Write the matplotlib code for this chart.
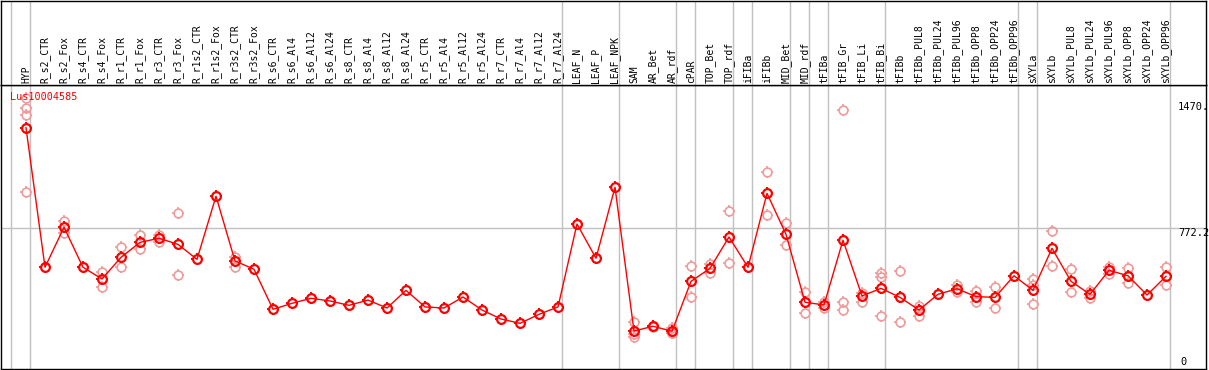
# Gráfica de expresión de Lus10004585
import numpy as np
import matplotlib.pyplot as plt
from matplotlib.path import Path

# Categorías (muestras)
categorias = ['HYP', 'R_s2_CTR', 'R_s2_Fox', 'R_s4_CTR', 'R_s4_Fox', 'R_r1_CTR', 'R_r1_Fox',
              'R_r3_CTR', 'R_r3_Fox', 'R_r1s2_CTR', 'R_r1s2_Fox', 'R_r3s2_CTR', 'R_r3s2_Fox',
              'R_s6_CTR', 'R_s6_Al4', 'R_s6_Al12', 'R_s6_Al24', 'R_s8_CTR', 'R_s8_Al4',
              'R_s8_Al12', 'R_s8_Al24', 'R_r5_CTR', 'R_r5_Al4', 'R_r5_Al12', 'R_r5_Al24',
              'R_r7_CTR', 'R_r7_Al4', 'R_r7_Al12', 'R_r7_Al24', 'LEAF_N', 'LEAF_P', 'LEAF_NPK',
              'SAM', 'AR_Bet', 'AR_rdf', 'cPAR', 'TOP_Bet', 'TOP_rdf', 'iFIBa', 'iFIBb',
              'MID_Bet', 'MID_rdf', 'tFIBa', 'tFIB_Gr', 'tFIB_Li', 'tFIB_Bi', 'tFIBb',
              'tFIBb_PUL8', 'tFIBb_PUL24', 'tFIBb_PUL96', 'tFIBb_OPP8', 'tFIBb_OPP24',
              'tFIBb_OPP96', 'sXYLa', 'sXYLb', 'sXYLb_PUL8', 'sXYLb_PUL24', 'sXYLb_PUL96',
              'sXYLb_OPP8', 'sXYLb_OPP24', 'sXYLb_OPP96']

# Valores medios
medias = [1330, 556, 778, 556, 491, 611, 694, 717, 683, 600, 950, 591, 545,
          323, 356, 384, 369, 345, 374, 330, 428, 336, 330, 391, 319, 269, 245, 295, 336,
          796, 606, 1000, 202, 229, 201, 478, 550, 724, 556, 966, 739, 362, 347, 706,
          397, 439, 389, 319, 406, 437, 393, 389, 509, 428, 661, 478, 406, 539, 509,
          402, 506]

# Réplicas individuales
replicas = [[1497, 1441, 1401, 972], [], [813, 744], [], [531, 448], [667, 556],
            [735, 656], [735, 698], [855, 513], [], [], [615, 559], [],
            [], [], [], [], [], [], [], [], [], [], [], [], [], [], [], [],
            [], [], [], [251, 185, 171], [225, 232], [221, 190, 192], [561, 389],
            [576, 524], [866, 578], [], [1084, 844], [800, 678], [417, 301], [332, 363],
            [1427, 362, 317], [415, 365], [524, 500, 287], [534, 251], [341, 287], [],
            [458, 419], [424, 363], [445, 332], [], [489, 351, 458], [755, 561],
            [545, 417], [424, 384], [559, 519], [552, 470], [], [557, 456]]

# Límites de grupos (líneas verticales)
limites = [0, 1, 29, 32, 35, 36, 38, 39, 41, 42, 43, 46, 53, 54, 61]

# Marcas pequeñas alrededor del círculo
marcas = Path([(1, 0), (1.4, 0), (-1, 0), (-1.4, 0), (0, 1), (0, 1.4), (0, -1), (0, -1.4)],
              [Path.MOVETO, Path.LINETO] * 4)

W, H = 1209, 370
fig = plt.figure(figsize=(W / 100, H / 100), dpi=100)

x0, x1 = -25 / 19, 1180 / 19
ax = fig.add_axes([1 / W, 1 / H, 1205 / W, 284 / H])
cab = fig.add_axes([1 / W, 285 / H, 1205 / W, 84 / H])

for a in (ax, cab):
    a.set_xlim(x0, x1)
    a.set_xticks([])
    a.set_yticks([])
    for s in a.spines.values():
        s.set_color('black')
        s.set_linewidth(1)
    for k in limites:
        a.axvline(k - 15 / 19, color='#c0c0c0', lw=1, zorder=0)
cab.set_ylim(0, 84)
ax.set_ylim(-8.3, 1567)
ax.axhline(772.2, color='#c0c0c0', lw=1, zorder=0)

# Etiquetas de las muestras
for i, c in enumerate(categorias):
    cab.text(i, 2, c, rotation=90, ha='center', va='bottom',
             family='DejaVu Sans Mono', fontsize=7)

ms = 6.3
x = np.arange(len(categorias))
for i, r in enumerate(replicas):
    if r:
        for m, t in (('o', ms), (marcas, ms * 1.4)):
            ax.plot([i] * len(r), r, ls='none', marker=m, ms=t, mfc='none',
                    mec='#f09a9a', mew=1.2, zorder=2)
ax.plot(x, medias, color='red', lw=1, marker='o', ms=ms, mfc='none',
        mec='red', mew=1.6, zorder=3)
ax.plot(x, medias, ls='none', marker=marcas, ms=ms * 1.4, mec='red', mew=1.4, zorder=3)

# Etiquetas del eje y
xe = (1178 - 26) / 19
ax.text(xe, 1470, '1470.', ha='left', va='top', family='DejaVu Sans Mono', fontsize=7.5)
ax.text(xe, 772.2, '772.2', ha='left', va='top', family='DejaVu Sans Mono', fontsize=7.5)
ax.text(xe + 0.1, 30, '0', ha='left', va='center', family='DejaVu Sans Mono', fontsize=7.5)

ax.text(-0.85, 1500, 'Lus10004585', color='red', ha='left', va='center',
        family='DejaVu Sans Mono', fontsize=7.3)

plt.savefig('out.png', dpi=100)
